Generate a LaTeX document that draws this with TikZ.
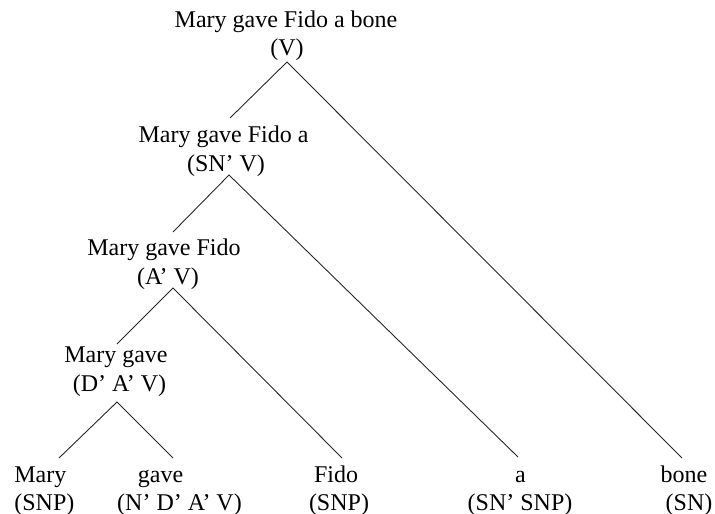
\documentclass[tikz,border=0pt]{standalone}
\usepackage{fontspec}
\setmainfont{Liberation Serif}
\begin{document}
\begin{tikzpicture}[x=0.5pt,y=-0.5pt,
  lbl/.style={inner sep=0pt, anchor=base, font=\fontsize{12}{14}\selectfont},
  branch/.style={line width=0.45pt, black!85}]
\useasboundingbox (0,0) rectangle (715,513);

% internal nodes: phrase and category
\node[lbl] (v-words)   at (286,28)    {Mary gave Fido a bone};
\node[lbl] (v-cat)     at (287,56)    {(V)};
\node[lbl] (snv-words) at (223.5,142) {Mary gave Fido a};
\node[lbl] (snv-cat)   at (226,171)   {(SN' V)};
\node[lbl] (av-words)  at (164,255)   {Mary gave Fido};
\node[lbl] (av-cat)    at (168,284)   {(A' V)};
\node[lbl] (dav-words) at (116,362)   {Mary gave};
\node[lbl] (dav-cat)   at (119.5,391) {(D' A' V)};

% leaves
\node[lbl, anchor=base west] (mary-words) at (14,482) {Mary};
\node[lbl, anchor=base west] (mary-cat)   at (14,510) {(SNP)};
\node[lbl] (gave-words) at (160.5,482) {gave};
\node[lbl] (gave-cat)   at (179.5,510) {(N' D' A' V)};
\node[lbl] (fido-words) at (336,482)   {Fido};
\node[lbl] (fido-cat)   at (339,510)   {(SNP)};
\node[lbl] (a-words)    at (520.5,482) {a};
\node[lbl] (a-cat)      at (520,510)   {(SN' SNP)};
\node[lbl] (bone-words) at (684,482)   {bone};
\node[lbl] (bone-cat)   at (689,510)   {(SN)};

% attachment points of the branches
\coordinate (v-apex)   at (287,62);
\coordinate (snv-top)  at (230,118);
\coordinate (snv-apex) at (229,175);
\coordinate (av-top)   at (173,232);
\coordinate (av-apex)  at (173,288);
\coordinate (dav-top)  at (117,344);
\coordinate (dav-apex) at (117,402);
\coordinate (mary-top) at (59,458);
\coordinate (gave-top) at (173,458);
\coordinate (fido-top) at (342,458);
\coordinate (a-top)    at (518,457);
\coordinate (bone-top) at (682,458);

% branches
\draw[branch] (snv-top) -- (v-apex) -- (bone-top);
\draw[branch] (av-top) -- (snv-apex) -- (a-top);
\draw[branch] (dav-top) -- (av-apex) -- (fido-top);
\draw[branch] (mary-top) -- (dav-apex) -- (gave-top);
\end{tikzpicture}
\end{document}
